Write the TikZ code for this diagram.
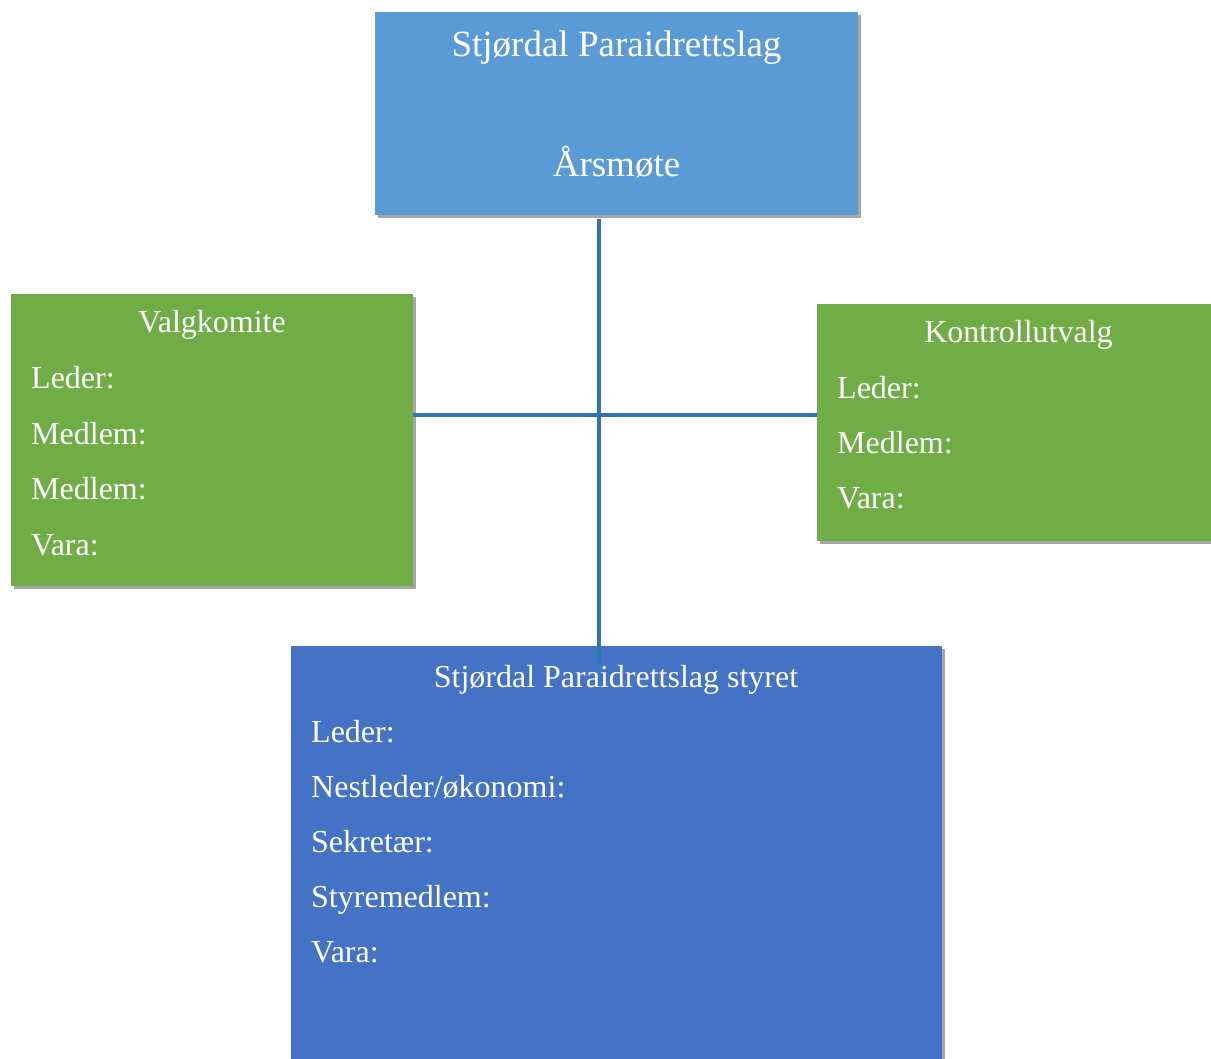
\documentclass[tikz,border=0pt]{standalone}
\usepackage{fontspec}
\setmainfont{Liberation Serif}
\usetikzlibrary{shadows}
\definecolor{topblue}{HTML}{5B9BD5}
\definecolor{boardblue}{HTML}{4472C4}
\definecolor{boxgreen}{HTML}{70AD47}
\definecolor{linkblue}{HTML}{2E75B6}
\begin{document}
\begin{tikzpicture}[x=1pt,y=-1pt,
    box/.style={rectangle,inner sep=0pt,anchor=north west,
      drop shadow={shadow xshift=3pt,shadow yshift=-3pt,fill=black!35,opacity=1}},
    txt/.style={text=white,anchor=base west,inner sep=0pt,font=\fontsize{32}{38}\selectfont},
    link/.style={linkblue,line width=3.2pt}]
  \clip (0,0) rectangle (1211,1059);
  \fill[white] (0,0) rectangle (1211,1059);
  % boxes
  \node[box,fill=topblue,minimum width=483pt,minimum height=203pt] (mote) at (375,12) {};
  \node[box,fill=boxgreen,minimum width=402pt,minimum height=292pt] (valg) at (11,294) {};
  \node[box,fill=boxgreen,minimum width=400pt,minimum height=237pt] (kontroll) at (817,304) {};
  \node[box,fill=boardblue,minimum width=651pt,minimum height=420pt] (board) at (291,646) {};
  % connectors
  \coordinate (hub) at (599,415);
  \coordinate (stem) at (599,665);
  \draw[link,shorten <=4pt] (hub |- mote.south) -- (stem);
  \draw[link] (hub -| valg.east) -- (hub -| kontroll.west);
  % texts
  \node[txt,anchor=base,font=\fontsize{37}{44}\selectfont] (motetitle) at (616.5,57) {Stjørdal Paraidrettslag};
  \node[txt,anchor=base,font=\fontsize{37}{44}\selectfont] (motename) at (616.5,177) {Årsmøte};
  \node[txt,anchor=base] (valgtitle) at (212,333) {Valgkomite};
  \foreach \t [count=\i] in {Leder:,Medlem:,Medlem:,Vara:}
    \node[txt] (valgrow\i) at (31,{333+55.5*\i}) {\t};
  \node[txt,anchor=base] (kontrolltitle) at (1018.5,343) {Kontrollutvalg};
  \foreach \t [count=\i] in {Leder:,Medlem:,Vara:}
    \node[txt] (kontrollrow\i) at (837,{343+55.3*\i}) {\t};
  \node[txt,anchor=base] (boardtitle) at (616,687) {Stjørdal Paraidrettslag styret};
  \foreach \t [count=\i] in {Leder:,Nestleder/økonomi:,Sekretær:,Styremedlem:,Vara:}
    \node[txt] (boardrow\i) at (311,{687+55*\i}) {\t};
\end{tikzpicture}
\end{document}
